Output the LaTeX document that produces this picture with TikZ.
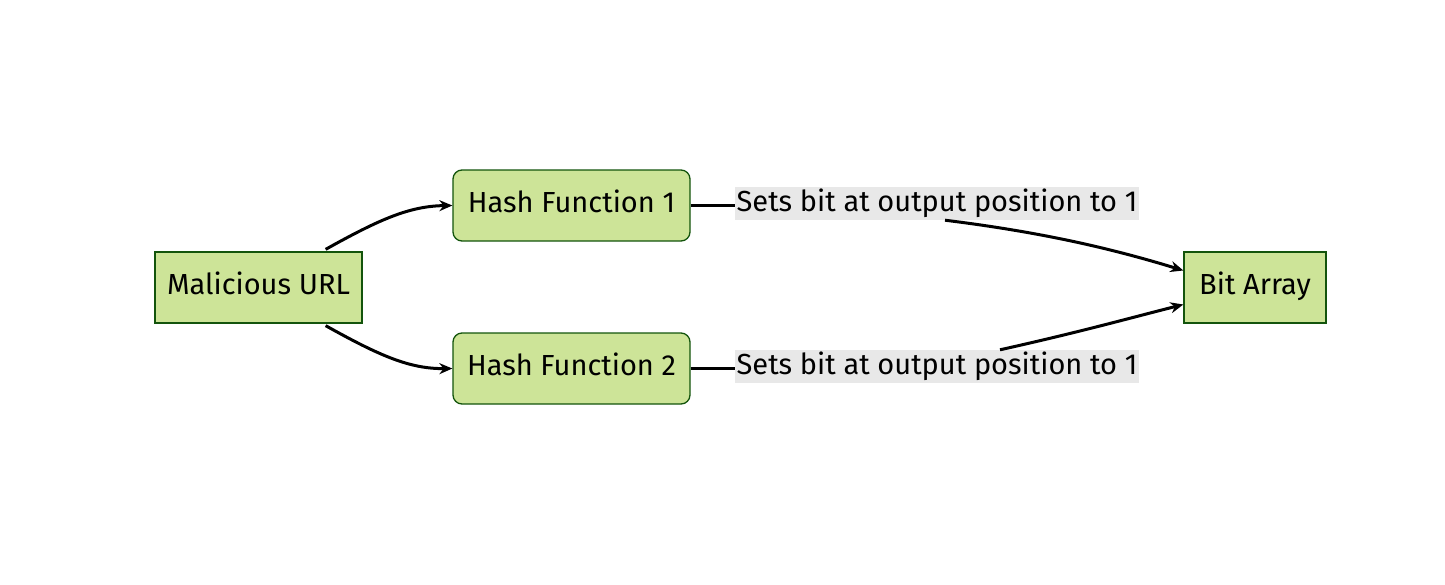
\documentclass[tikz,border=0pt]{standalone}
\usepackage{fontspec}
\setmainfont{Fira Sans}
\usepackage{tikz}
\usetikzlibrary{arrows.meta,positioning,calc}
\definecolor{nodegreen}{HTML}{CDE498}
\definecolor{edgegreen}{HTML}{13540C}
\definecolor{labelgray}{HTML}{E8E8E8}
\tikzset{
    box/.style={draw=edgegreen,fill=nodegreen,line width=1.3pt,minimum height=71pt,inner sep=0pt,text depth=9pt,font=\fontsize{29}{34}\selectfont},
    roundbox/.style={box,rounded corners=9pt,minimum width=237pt},
    lbl/.style={fill=labelgray,inner sep=0pt,minimum height=33pt,minimum width=404pt,font=\fontsize{29}{34}\selectfont},
    link/.style={line width=3pt,-{Stealth[length=13pt,width=11pt]}}
}
\begin{document}
\begin{tikzpicture}[x=1pt,y=-1pt]
    \useasboundingbox (0,0) rectangle (1445,584);
    % Quelle und Ziel
    \node[box,minimum width=207pt] (url) at (258.5,287.5) {Malicious URL};
    \node[box,minimum width=142pt] (bits) at (1255,287.5) {Bit Array};
    % zwei Hashfunktionen, Abstand 163
    \foreach \n/\y in {1/205.5, 2/368.5} {
        \node[roundbox] (hash\n) at (571.5,\y) {Hash Function \n};
        \node[lbl] (set\n) at (937,\y-2) {Sets bit at output position to 1};
        \draw[line width=3pt] (hash\n.east) -- (set\n.west |- hash\n.east);
    }
    \draw[link] ($(url.north east)+(-37,-2)$) .. controls (380,219) and (410,206) .. (hash1.west);
    \draw[link] ($(url.south east)+(-37,2)$) .. controls (380,356) and (410,369) .. (hash2.west);
    \draw[link] ($(set1.south)+(8,0)$) .. controls (1040,232) and (1110,248) .. ($(bits.west)+(0,-17)$);
    \draw[link] ($(set2.north)+(63,0)$) .. controls (1080,332) and (1130,318) .. ($(bits.west)+(0,17)$);
\end{tikzpicture}
\end{document}
